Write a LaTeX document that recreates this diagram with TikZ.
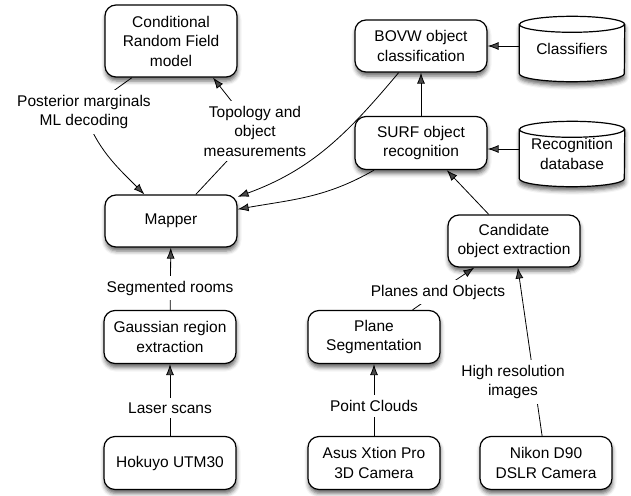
\documentclass[tikz,border=0pt]{standalone}
\usepackage{fontspec}
\setmainfont{Liberation Sans}
\usetikzlibrary{arrows.meta,shadows.blur}
\pgfdeclarelayer{edgelayer}
\pgfdeclarelayer{storelayer}
\pgfsetlayers{edgelayer,storelayer,main}
\tikzset{
  box/.style={draw, line width=1.2pt, rounded corners=11pt, fill=white, align=center,
    minimum width=132pt, minimum height=53pt,
    blur shadow={shadow xshift=0.5pt, shadow yshift=-4pt, shadow blur radius=4pt, shadow opacity=60}},
  store/.style={align=center, minimum width=105pt, minimum height=65pt, inner sep=0pt},
  cylline/.style={draw, line width=1.2pt, fill=white,
    blur shadow={shadow xshift=0.5pt, shadow yshift=-4pt, shadow blur radius=4pt, shadow opacity=60}},
  lbl/.style={fill=white, align=center, inner sep=5pt},
  edge/.style={line width=0.8pt},
  arr/.style={edge, -{Latex[length=11pt,width=8pt]}}
}

\begin{document}
\begin{tikzpicture}[x=1pt, y=1pt, every node/.style={font=\fontsize{15.5}{19.5}\selectfont}]
	\useasboundingbox (0,0) rectangle (631,-495);
	\node [box, minimum height=72pt] (crf) at (171, -41) {Conditional\\Random Field\\model};
	\node [box, minimum height=52pt] (mapper) at (171, -221) {Mapper};
	\node [box] (gauss) at (170, -337) {Gaussian region\\extraction};
	\node [box] (hokuyo) at (170, -463) {Hokuyo UTM30};
	\node [box] (plane) at (374, -337) {Plane\\Segmentation};
	\node [box] (asus) at (374, -463) {Asus Xtion Pro\\3D Camera};
	\node [box] (nikon) at (546, -463) {Nikon D90\\DSLR Camera};
	\node [box, minimum height=52pt] (cand) at (514, -241) {Candidate\\object extraction};
	\node [box] (surf) at (421, -143) {SURF object\\recognition};
	\node [box, minimum height=52pt] (bovw) at (421, -46) {BOVW object\\classification};
	\node [store] (classif) at (572, -49) {Classifiers};
	\node [store] (recdb) at (572, -154) {Recognition\\database};
	\node [lbl] (post) at (84, -112) {Posterior marginals\\ML decoding};
	\node [lbl] (topo) at (255, -131) {Topology and\\object\\measurements};
	\node [lbl] (segrooms) at (170, -288) {Segmented rooms};
	\node [lbl] (laser) at (170, -408) {Laser scans};
	\node [lbl] (pointcl) at (374, -406) {Point Clouds};
	\node [lbl] (planesobj) at (438, -292) {Planes and Objects};
	\node [lbl] (highres) at (513, -382) {High resolution\\images};
	\begin{pgfonlayer}{storelayer}
		\foreach \n in {classif, recdb} {
			\draw [cylline] ([yshift=-8pt]\n.north west) -- ([yshift=8pt]\n.south west)
				arc [start angle=180, end angle=360, x radius=52.5pt, y radius=8pt]
				-- ([yshift=-8pt]\n.north east)
				arc [start angle=0, end angle=180, x radius=52.5pt, y radius=8pt] -- cycle;
			\draw [line width=1.2pt] ([yshift=-8pt]\n.north west)
				arc [start angle=180, end angle=360, x radius=52.5pt, y radius=8pt];
		}
	\end{pgfonlayer}
	\begin{pgfonlayer}{edgelayer}
		\draw [edge] ([xshift=-39pt]crf.south) -- (post.center);
		\draw [arr] (post.center) to [out=-70, in=135] (mapper);
		\draw [edge] (mapper) -- (topo.center);
		\draw [arr] (topo.center) -- ([xshift=42pt]crf.south);
		\draw [arr] (gauss) -- (mapper);
		\draw [arr] (hokuyo) -- (gauss);
		\draw [arr] (asus) -- (plane);
		\draw [edge] (plane) -- (planesobj.center);
		\draw [arr] (planesobj.center) -- (cand);
		\draw [arr] (nikon) -- (cand);
		\draw [arr] (cand) -- (surf);
		\draw [arr] (surf) -- (bovw);
		\draw [arr] (bovw.east -| classif.west) -- (bovw.east);
		\draw [arr] ([yshift=5pt]recdb.west) -- ([yshift=5pt]recdb.west -| surf.east);
		\draw [arr] (surf) to [out=-150, in=10] (mapper);
	\end{pgfonlayer}
	\draw [arr] (bovw) to [out=-130, in=20] (mapper);
\end{tikzpicture}
\end{document}
